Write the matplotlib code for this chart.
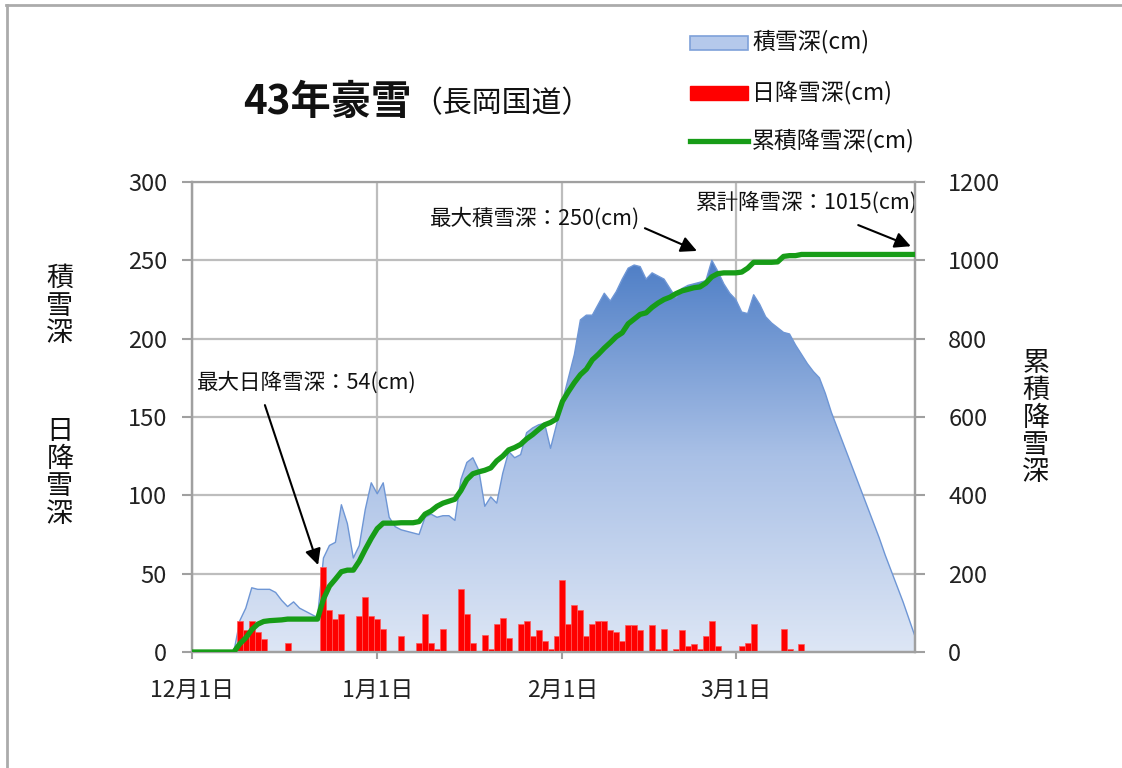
import numpy as np
import matplotlib
matplotlib.use('Agg')
import matplotlib.pyplot as plt
from matplotlib.colors import LinearSegmentedColormap
from matplotlib.patches import Rectangle, Polygon
from matplotlib.lines import Line2D

plt.rcParams['font.family'] = ['Noto Sans CJK JP', 'DejaVu Sans']

# ---------------- data (Dec 1 1967 = day 0 ... Mar 31 1968 = day 121) ----------------
snow_depth = [
    0, 0, 0, 0, 0, 0, 0, 0, 20, 28,
    41, 40, 40, 40, 38, 33, 29, 32, 28, 26,
    24, 22, 60, 68, 70, 94, 82, 60, 68, 91,
    108, 101, 108, 86, 80, 78, 77, 76, 75, 86,
    88, 86, 87, 87, 84, 110, 121, 124, 116, 93,
    99, 95, 114, 128, 124, 126, 140, 143, 145, 146,
    130, 145, 160, 175, 190, 212, 215, 215, 222, 229,
    224, 230, 238, 245, 247, 246, 238, 242, 240, 238,
    232, 226, 232, 234, 235, 236, 237, 250, 243, 235,
    229, 225, 217, 216, 228, 222, 214, 210, 207, 204,
    203, 196, 190, 184, 179, 175, 165, 153, 143, 133,
    123, 113, 103, 93, 83, 73, 62, 52, 42, 32,
    21, 10,
]
daily_snowfall = [
    0, 0, 0, 0, 0, 0, 0, 0, 20, 14,
    20, 13, 8, 0, 0, 0, 6, 0, 0, 0,
    0, 0, 54, 27, 21, 24, 0, 0, 23, 35,
    23, 21, 15, 0, 0, 10, 0, 0, 6, 24,
    6, 2, 15, 0, 0, 40, 24, 6, 0, 11,
    2, 18, 22, 9, 0, 18, 20, 10, 14, 7,
    2, 10, 46, 18, 30, 27, 10, 18, 20, 20,
    14, 13, 7, 17, 17, 14, 0, 17, 2, 15,
    0, 2, 14, 4, 5, 2, 10, 20, 4, 0,
    0, 0, 4, 6, 18, 0, 0, 0, 0, 15,
    2, 0, 5, 0, 0, 0, 0, 0, 0, 0,
    0, 0, 0, 0, 0, 0, 0, 0, 0, 0,
    0, 0,
]
cumulative_snowfall = [
    0, 0, 0, 0, 0, 0, 0, 0, 21, 36,
    57, 71, 78, 80, 81, 82, 84, 84, 84, 84,
    84, 84, 135, 168, 186, 205, 209, 209, 232, 262,
    290, 315, 329, 329, 329, 330, 330, 330, 333, 352,
    360, 372, 380, 385, 390, 412, 440, 455, 460, 464,
    470, 488, 500, 516, 522, 530, 544, 555, 568, 580,
    586, 595, 640, 665, 688, 708, 722, 746, 760, 776,
    790, 805, 815, 838, 850, 862, 866, 880, 891, 900,
    906, 915, 922, 926, 930, 932, 942, 958, 966, 968,
    968, 968, 970, 980, 995, 995, 995, 995, 996, 1010,
    1012, 1012, 1015, 1015, 1015, 1015, 1015, 1015, 1015, 1015,
    1015, 1015, 1015, 1015, 1015, 1015, 1015, 1015, 1015, 1015,
    1015, 1015,
]
month_tick_days = [0, 31, 62, 91]
month_tick_labels = ['12月1日', '1月1日', '2月1日', '3月1日']
legend_labels = ['積雪深(cm)', '日降雪深(cm)', '累積降雪深(cm)']
title_main = '43年豪雪'
title_sub = '（長岡国道）'
left_label_1 = '積雪深'
left_label_2 = '日降雪深'
right_label = '累積降雪深'
ann_max_daily = '最大日降雪深：54(cm)'
ann_max_depth = '最大積雪深：250(cm)'
ann_total = '累計降雪深：1015(cm)'

# ---------------- figure ----------------
W, H = 1122, 768
fig = plt.figure(figsize=(W / 100, H / 100), dpi=100)
fig.patch.set_facecolor('white')


def fx(x):
    return x / W


def fy(y):
    return 1 - y / H


ax = fig.add_axes([fx(192), fy(652), fx(915) - fx(192), fy(182) - fy(652)])
ax2 = ax.twinx()

days = np.arange(len(snow_depth))
xmax = days[-1]
GRID = '#BDBDBD'
AXC = '#A0A0A0'
TXT = '#111111'

# gradient area for snow depth
verts = [(days[0], 0)] + list(zip(days, snow_depth)) + [(days[-1], 0)]
clip = Polygon(verts, closed=True, facecolor='none', edgecolor='none', transform=ax.transData)
ax.add_patch(clip)
cmap = LinearSegmentedColormap.from_list('snow', ['#DDE6F5', '#A9C0E6', '#4E7EC6'])
grad = np.linspace(0, 1, 256).reshape(-1, 1)
im = ax.imshow(grad, extent=[0, xmax, 0, max(snow_depth)], origin='lower',
               aspect='auto', cmap=cmap, zorder=1, interpolation='bilinear')
im.set_clip_path(clip)
ax.plot(days, snow_depth, color='#6E96D5', lw=1.0, zorder=2)

# daily snowfall bars
ax.bar(days, daily_snowfall, width=1.0, color='#FF0000', edgecolor='#FF5A5A',
       linewidth=0.5, zorder=3)

# cumulative line
ax2.plot(days, cumulative_snowfall, color='#179C17', lw=3.8,
         solid_joinstyle='round', solid_capstyle='round', zorder=4)

ax.set_xlim(0, xmax)
ax.set_ylim(0, 300)
ax2.set_ylim(0, 1200)
ax.set_yticks(np.arange(0, 301, 50))
ax2.set_yticks(np.arange(0, 1201, 200))
ax.set_xticks(month_tick_days)
ax.set_xticklabels(month_tick_labels)

ax.grid(True, color=GRID, lw=1.6)
ax.set_axisbelow(True)

for a in (ax, ax2):
    for s in a.spines.values():
        s.set_color(AXC)
        s.set_linewidth(1.6)
ax2.spines['top'].set_visible(False)

ax.tick_params(axis='y', length=7, width=1.5, color=AXC, labelsize=17, pad=11,
               labelcolor='#222222')
ax.tick_params(axis='x', length=5, width=1.5, color=AXC, labelsize=16.5, pad=14,
               labelcolor='#222222')
ax2.tick_params(axis='y', length=7, width=1.5, color=AXC, labelsize=17, pad=17,
                labelcolor='#222222')

# annotations (arrows)
arrow_kw = dict(arrowstyle='-|>', color='black', lw=1.5, mutation_scale=24,
                shrinkA=0, shrinkB=0)
ax.annotate('', xy=(21.1, 55.5), xytext=(12.2, 157.6), arrowprops=arrow_kw,
            annotation_clip=False, zorder=6)
ax.annotate('', xy=(84.5, 256), xytext=(75.8, 270.5), arrowprops=arrow_kw,
            annotation_clip=False, zorder=6)
ax.annotate('', xy=(120.3, 259), xytext=(111.5, 272.5), arrowprops=arrow_kw,
            annotation_clip=False, zorder=6)
ax.text(0.8, 172, ann_max_daily, fontsize=15.5, ha='left', va='center',
        zorder=6, clip_on=False, color=TXT)
ax.text(39.8, 276.5, ann_max_depth, fontsize=15.5, ha='left', va='center',
        zorder=6, clip_on=False, color=TXT)
ax.text(84.3, 286.5, ann_total, fontsize=15.5, ha='left', va='center',
        zorder=6, clip_on=False, color=TXT)

# axis titles (stacked characters)
fig.text(fx(60), fy(306), '\n'.join(left_label_1), ha='center', va='center',
         fontsize=19.5, linespacing=1.02, color=TXT)
fig.text(fx(60), fy(473), '\n'.join(left_label_2), ha='center', va='center',
         fontsize=19.5, linespacing=1.02, color=TXT)
fig.text(fx(1036), fy(418), '\n'.join(right_label), ha='center', va='center',
         fontsize=19.5, linespacing=1.02, color=TXT)

# title
fig.text(fx(243), fy(102), title_main, fontsize=29, fontweight='bold',
         ha='left', va='center', color=TXT)
fig.text(fx(412), fy(104), title_sub, fontsize=21.5, ha='left', va='center',
         color=TXT)

# legend (manual)
fig.add_artist(Rectangle((fx(690), fy(50)), fx(748) - fx(690), fy(36) - fy(50),
                         transform=fig.transFigure, facecolor='#B5C9EB',
                         edgecolor='#7EA1D9', lw=1.2))
fig.add_artist(Rectangle((fx(690), fy(100)), fx(748) - fx(690), fy(86) - fy(100),
                         transform=fig.transFigure, facecolor='#FF0000',
                         edgecolor='#FF0000', lw=1.0))
fig.add_artist(Line2D([fx(690), fx(748)], [fy(141), fy(141)], transform=fig.transFigure,
                      color='#179C17', lw=3.8))
for yy, lab in zip([42, 92, 140], legend_labels):
    fig.text(fx(752), fy(yy), lab, fontsize=16.5, ha='left', va='center',
             color=TXT)

# outer frame (top and left edges visible)
fig.add_artist(Line2D([fx(6.5), fx(6.5)], [fy(5), 0], transform=fig.transFigure,
                      color='#ABABAB', lw=2))
fig.add_artist(Line2D([fx(6), 1], [fy(5), fy(5)], transform=fig.transFigure,
                      color='#ABABAB', lw=2))

fig.savefig('out.png', dpi=100)
